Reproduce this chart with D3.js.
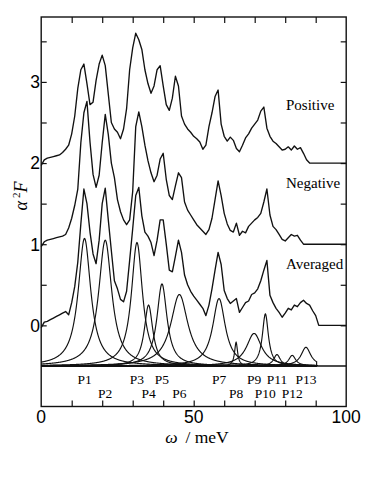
<!DOCTYPE html>
<html>
<head>
<meta charset="utf-8">
<script src="https://cdn.jsdelivr.net/npm/d3@7"></script>
<style>
  body { margin: 0; background: #fff; }
  svg text { font-family: "Liberation Serif", "DejaVu Serif", serif; fill: #000; }
  .num { font-family: "Liberation Sans", Arial, sans-serif; font-size: 17.5px; }
  .tick line { stroke: #111; stroke-width: 1.2; }
</style>
</head>
<body>
<div id="chart"></div>
<script>
// omega grid (meV), one point per meV
const omega = d3.range(0, 101);

// Eliashberg function, offset by 2 / 1 / 0
const positive = [
  1.97, 2.04, 2.06, 2.07, 2.08, 2.09, 2.10, 2.13, 2.17, 2.22,
  2.36, 2.58, 2.92, 3.15, 3.22, 2.98, 2.72, 2.75, 3.02, 3.22,
  3.33, 3.20, 2.85, 2.50, 2.42, 2.38, 2.30, 2.42, 2.67, 3.15,
  3.42, 3.60, 3.52, 3.40, 3.15, 2.98, 2.86, 2.95, 3.15, 3.20,
  2.95, 2.72, 2.65, 2.80, 3.07, 2.95, 2.58, 2.48, 2.42, 2.38,
  2.33, 2.30, 2.26, 2.17, 2.22, 2.45, 2.62, 2.82, 2.90, 2.48,
  2.33, 2.27, 2.32, 2.28, 2.18, 2.14, 2.22, 2.31, 2.36, 2.43,
  2.48, 2.53, 2.64, 2.69, 2.43, 2.33, 2.27, 2.24, 2.20, 2.16,
  2.17, 2.20, 2.16, 2.21, 2.17, 2.19, 2.12, 2.04, 2.00, 2.00,
  2.00, 2.00, 2.00, 2.00, 2.00, 2.00, 2.00, 2.00, 2.00, 2.00,
  2.00
];
const negative = [
  0.97, 1.03, 1.05, 1.06, 1.07, 1.08, 1.09, 1.10, 1.12, 1.20,
  1.32, 1.48, 1.68, 2.25, 2.62, 2.76, 2.26, 1.86, 1.70, 1.85,
  2.25, 2.60, 2.35, 2.00, 1.82, 1.55, 1.40, 1.30, 1.24, 1.30,
  1.65, 2.45, 2.63, 2.45, 2.22, 2.03, 1.88, 1.77, 1.85, 2.05,
  2.12, 1.80, 1.60, 1.55, 1.72, 1.88, 1.82, 1.52, 1.42, 1.36,
  1.30, 1.24, 1.20, 1.16, 1.12, 1.18, 1.32, 1.55, 1.78, 1.60,
  1.38, 1.25, 1.17, 1.15, 1.26, 1.11, 1.16, 1.14, 1.22, 1.26,
  1.30, 1.33, 1.38, 1.52, 1.68, 1.36, 1.22, 1.18, 1.12, 1.06,
  1.04, 1.08, 1.12, 1.10, 1.11, 1.05, 1.00, 1.00, 1.00, 1.00,
  1.00, 1.00, 1.00, 1.00, 1.00, 1.00, 1.00, 1.00, 1.00, 1.00,
  1.00
];
const averaged = [
  -0.03, 0.04, 0.05, 0.07, 0.09, 0.11, 0.13, 0.15, 0.17, 0.13,
  0.28, 0.48, 0.78, 1.25, 1.68, 1.50, 1.15, 0.88, 0.76, 1.05,
  1.50, 1.69, 1.30, 0.92, 0.55, 0.45, 0.32, 0.29, 0.42, 0.80,
  1.19, 1.60, 1.70, 1.35, 1.15, 1.10, 1.02, 0.86, 1.05, 1.30,
  1.30, 1.00, 0.68, 0.66, 0.85, 1.05, 0.90, 0.62, 0.50, 0.42,
  0.36, 0.31, 0.26, 0.21, 0.12, 0.25, 0.45, 0.68, 0.90, 0.75,
  0.43, 0.33, 0.27, 0.30, 0.33, 0.16, 0.22, 0.28, 0.30, 0.38,
  0.40, 0.45, 0.55, 0.68, 0.80, 0.37, 0.28, 0.21, 0.16, 0.10,
  0.15, 0.21, 0.19, 0.25, 0.23, 0.28, 0.31, 0.27, 0.25, 0.18,
  0.12, 0.00, 0.00, 0.00, 0.00, 0.00, 0.00, 0.00, 0.00, 0.00,
  0.00
];
const seriesNames = ["Positive", "Negative", "Averaged"];

// fitted Lorentzian components (baseline -0.5)
const peakNames  = ["P1","P2","P3","P4","P5","P6","P7","P8","P9","P10","P11","P12","P13"];
const peakCenter = [14.2, 21.0, 31.4, 35.2, 39.6, 45.3, 58.3, 63.9, 69.8, 73.5, 77.3, 82.3, 86.8];
const peakHeight = [1.57, 1.55, 1.52, 0.75, 1.01, 0.88, 0.83, 0.29, 0.40, 0.64, 0.14, 0.13, 0.23];
const peakHwhm   = [2.5, 2.6, 2.2, 1.7, 2.0, 3.4, 2.5, 0.6, 3.0, 1.2, 1.3, 1.4, 1.9];
const peakBase = -0.5;
const fitEnd = 90.3;

const xLabelTicks = [0, 50, 100];
const xMinorTicks = [10, 20, 30, 40, 50, 60, 70, 80, 90];
const yLabelTicks = [0, 1, 2, 3];
const yMinorTicks = [0, 0.5, 1, 1.5, 2, 2.5, 3, 3.5];

const W = 382, H = 478;
const svg = d3.select("#chart").append("svg")
    .attr("width", W).attr("height", H);

const x = d3.scaleLinear().domain([0, 100]).range([41.2, 346.2]);
const y = d3.scaleLinear().domain([-1, 3.8]).range([406.5, 17]);

const line = d3.line().x(d => x(d[0])).y(d => y(d[1]));

// inward ticks on all four sides
function ticks(axis, tf) {
  const g = svg.append("g").attr("transform", tf).call(axis);
  g.select(".domain").remove();
  g.selectAll("text").remove();
}
ticks(d3.axisBottom(x).tickValues(xMinorTicks).tickSize(6), `translate(0,${y(3.8)})`);
ticks(d3.axisTop(x).tickValues(xMinorTicks).tickSize(6), `translate(0,${y(-1)})`);
ticks(d3.axisRight(y).tickValues(yMinorTicks).tickSize(5.5), `translate(${x(0)},0)`);
ticks(d3.axisLeft(y).tickValues(yMinorTicks).tickSize(5.5), `translate(${x(100)},0)`);

// frame + separator of the component panel
svg.append("rect")
    .attr("x", x(0)).attr("y", y(3.8))
    .attr("width", x(100) - x(0)).attr("height", y(-1) - y(3.8))
    .attr("fill", "none").attr("stroke", "#111").attr("stroke-width", 1.4);
svg.append("line")
    .attr("x1", x(0)).attr("x2", x(100))
    .attr("y1", y(peakBase)).attr("y2", y(peakBase))
    .attr("stroke", "#111").attr("stroke-width", 1.4);

// spectra
[positive, negative, averaged].forEach(vals => {
  svg.append("path")
      .datum(d3.zip(omega, vals))
      .attr("d", line)
      .attr("fill", "none")
      .attr("stroke", "#111")
      .attr("stroke-width", 1.35)
      .attr("stroke-linejoin", "round");
});

// Lorentzian components
peakNames.forEach((p, i) => {
  const c = peakCenter[i], h = peakHeight[i], g = peakHwhm[i];
  const f = w => peakBase + h / (1 + ((w - c) / g) ** 2);
  const pts = d3.range(0, fitEnd, 0.1).map(w => [w, f(w)]);
  pts.push([fitEnd, f(fitEnd)], [fitEnd, peakBase]);
  svg.append("path")
      .attr("d", line(pts))
      .attr("fill", "none")
      .attr("stroke", "#111")
      .attr("stroke-width", 1.15);
});

// peak labels, two staggered rows
svg.selectAll(".plabel")
  .data(peakNames)
  .enter().append("text")
    .attr("x", (d, i) => x(peakCenter[i]))
    .attr("y", (d, i) => i % 2 === 0 ? 383.5 : 398)
    .attr("text-anchor", "middle")
    .style("font-size", "13.5px")
    .text(d => d);

// series names
const nameY = [110, 187.5, 268.5];
seriesNames.forEach((s, i) => {
  svg.append("text")
      .attr("x", 286).attr("y", nameY[i])
      .style("font-size", "15px")
      .text(s);
});

// tick labels
svg.selectAll(".xl").data(xLabelTicks).enter().append("text")
    .attr("class", "num")
    .attr("x", d => x(d)).attr("y", 422.5)
    .attr("text-anchor", "middle")
    .text(d => d);
svg.selectAll(".yl").data(yLabelTicks).enter().append("text")
    .attr("class", "num")
    .attr("x", 40).attr("y", d => y(d))
    .attr("dy", "0.36em")
    .attr("text-anchor", "end")
    .text(d => d);

// axis titles
const xt = svg.append("text")
    .attr("x", 197).attr("y", 443)
    .attr("text-anchor", "middle")
    .style("font-size", "17.5px");
xt.append("tspan").style("font-style", "italic").text("ω");
xt.append("tspan").text("\u2009 / meV");

const yt = svg.append("text")
    .attr("transform", "translate(26.5,196) rotate(-90)")
    .attr("text-anchor", "middle")
    .style("font-size", "18px");
yt.append("tspan").style("font-style", "italic").text("α");
yt.append("tspan").attr("dx", 3).attr("dy", -7).style("font-size", "11px").text("2");
yt.append("tspan").attr("dy", 7).style("font-style", "italic").text("F");
</script>
</body>
</html>
